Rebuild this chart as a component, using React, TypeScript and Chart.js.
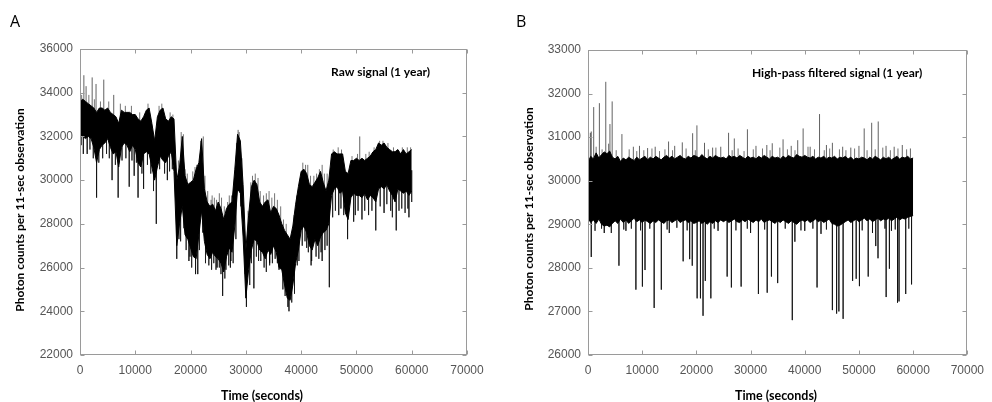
import React, { useEffect, useRef } from "react";
import { Chart, registerables } from "chart.js";
Chart.register(...registerables);

// ---------- Panel A: raw signal ----------
const RAW_STEP = 500; // seconds between envelope samples
const rawHigh = [
  33600, 33700, 33600, 33500, 33400, 33300, 33100, 33300, 33300, 33200,
  33300, 33100, 33000, 32900, 32600, 33200, 33100, 33100, 33100, 33000,
  33000, 32800, 32700, 32900, 33200, 33300, 32600, 31800, 32900, 33200,
  33300, 32800, 32700, 32900, 32800, 30000, 30600, 32000, 30200, 29800,
  29900, 30000, 30500, 30800, 31900, 29600, 29000, 28800, 28900, 28600,
  29000, 28700, 28200, 28700, 28900, 29000, 30500, 32100, 31800, 29800,
  26800, 28400, 29700, 30000, 29800, 29000, 28800, 29000, 29100, 28500,
  28800, 28700, 28400, 28000, 27700, 27500, 27300, 27900, 28900, 29700,
  30400, 30500, 30300, 29800, 29700, 29900, 30100, 30400, 29900, 29500,
  30000, 31200, 31300, 31200, 31200, 31200, 30400, 30300, 30900, 30900,
  31000, 30900, 31000, 30900, 31000, 31100, 31300, 31400, 31700, 31600,
  31700, 31500, 31400, 31300, 31300, 31400, 31200, 31400, 31200, 31300,
  31400,
];
const rawLow = [
  32100, 32000, 31900, 32000, 31900, 31500, 30800, 31400, 31600, 31700,
  31900, 31500, 31200, 31300, 30600, 31500, 31700, 31600, 31300, 31600,
  31400, 30800, 30600, 31200, 31300, 31200, 30600, 30000, 30600, 31100,
  30900, 30800, 31100, 31300, 30400, 27000, 28000, 28800, 27500, 27300,
  26900, 26500, 26400, 27500, 28600, 27200, 26600, 26400, 26700, 26500,
  26400, 26200, 25800, 26500, 26900, 26700, 27900, 29600, 29400, 27400,
  24600, 25900, 26800, 27300, 27200, 26800, 26700, 26400, 26800, 26600,
  27000, 26700, 26000, 25900, 25200, 24600, 24500, 25200, 26200, 26800,
  27700, 27900, 27600, 27000, 26800, 27300, 27000, 27400, 27600, 27700,
  28000, 29300, 29600, 29700, 29400, 29500, 28500, 28200, 29200, 29400,
  29300, 29300, 29200, 29400, 29100, 29300, 29200, 29000, 29600, 29700,
  29600, 29800, 29500, 29300, 29000, 29600, 29500, 29400, 29500, 29300,
  29500,
];
// large excursions
const rawSpikeTimes = [
  700, 1100, 2200, 2900, 4300, 6100, 600, 1300, 3000, 5800, 6900, 8900,
  10500, 11500, 13800, 17500, 19700, 20900, 21300, 24800, 25800, 28600,
  30100, 31450, 36000, 37800, 41800, 45100, 48400, 49500, 50600, 51000,
  53500, 55000, 57200, 59500, 9800, 15800, 27200, 34300, 43800, 46800, 56200,
];
const rawSpikeValues = [
  34800, 34300, 34700, 34400, 34600, 33900, 31200, 31200, 29200, 30000, 29200, 29700,
  29200, 29600, 28000, 26400, 26300, 25700, 25700, 26000, 24700, 32300,
  24200, 25050, 25900, 24000, 26100, 25100, 27300, 28100, 32000, 28200,
  27700, 28500, 27700, 28300, 30200, 30000, 26000, 26200, 26300, 28400, 28600,
];
// small excursions along the band edges
const rawEdgeTimes = [
  300, 1600, 2600, 3700, 5200, 7300, 8200, 9300, 10800, 12300, 14300, 14800,
  16300, 16800, 18300, 18700, 21100, 21800, 22300, 23700, 24300, 25200, 26700,
  27400, 28300, 28800, 31200, 32200, 33200, 34700, 35200, 39700, 40300, 40800,
  42300, 43300, 44700, 45800, 46700, 47300, 49200, 50200, 51700, 52300, 53200,
  54200, 54800, 55700, 56700, 58300, 59200, 59800,
  17800, 19000, 19400, 20400, 20800, 22600, 23100, 23900, 24700, 25600, 26100,
  27000, 27800, 29300, 30400, 30900, 31700, 32600, 33700, 34200, 35700, 36300,
  36800, 37300, 38700, 39200, 41200, 41700, 42800, 43800, 44200, 45300,
  200, 1800, 2400, 3400, 4100, 4800, 5300, 6400, 7600, 8300, 9400, 10200,
  11200, 12200, 12800, 13300, 14400, 15300, 16200, 16700, 18200, 19200, 20200,
  22700, 23300, 24200, 25200, 26200, 26900, 27700, 29800, 30700, 32700, 33700,
  34800, 35700, 36700, 38300, 39300, 40200, 40700, 41300, 42700, 43200, 44300,
  45700, 46200, 47200, 47700, 49800, 50300, 51500, 52200, 52800, 54300, 55500,
  56500, 57700, 58200, 58800, 59300, 60000,
  17900, 18800, 19900, 21600, 22200, 23800, 24600, 25500, 26400, 27300, 28200,
  29100, 31000, 31900, 32300, 33300, 34300, 35300, 37100, 37600, 38800, 39600,
  41000, 41900, 43600, 44700,
];
const rawEdgeValues = [
  33900, 33900, 33700, 33600, 33600, 33500, 33400, 33400, 33100, 33500, 33400, 33500,
  33100, 33000, 32200, 32100, 30700, 31800, 32000, 29100, 29200, 29400, 29000,
  29300, 31700, 32200, 30200, 30100, 29300, 29200, 29400, 30000, 30800, 30700,
  30200, 30500, 30300, 31400, 31500, 31400, 31100, 31200, 31200, 31300, 31500,
  31800, 31800, 31700, 31500, 31500, 31500, 31500,
  30900, 30500, 30300, 30400, 30600, 30200, 29500, 29300, 29100, 29200, 28800,
  29300, 29700, 31000, 28600, 29900, 30300, 29500, 29400, 29500, 29100, 28800,
  28200, 28000, 28400, 29300, 30700, 30200, 30300, 30700, 30300, 30400,
  31600, 31400, 31000, 30800, 31000, 31200, 31000, 30700, 30900, 31000, 30900, 30800,
  30300, 30700, 30300, 29500, 30500, 30300, 30400, 30500, 27200, 26800, 26000,
  26200, 26100, 26200, 26000, 25500, 26100, 26200, 26500, 25200, 26300, 25800,
  26200, 26200, 25000, 24400, 26100, 27000, 27200, 26700, 26500, 26400, 26800,
  28300, 28600, 28700, 28400, 28400, 28600, 28600, 28400, 28600, 28800, 28900,
  28300, 28600, 28700, 28500, 28700, 29000,
  27300, 27800, 26500, 26800, 27600, 25900, 25900, 25700, 25900, 26300, 27300,
  28800, 26200, 26500, 26300, 26000, 26100, 26400, 24700, 24200, 24800, 26300,
  26900, 26300, 26700, 27000,
];

// ---------- Panel B: high-pass filtered signal ----------
const HP_STEP = 500;
const hpHigh = [
  30420, 30560, 30500, 30640, 30520, 30600, 30660, 30620, 30680, 30540,
  30500, 30560, 30440, 30520, 30480, 30540, 30500, 30460, 30540, 30480,
  30520, 30560, 30480, 30540, 30500, 30560, 30520, 30480, 30540, 30580,
  30520, 30560, 30500, 30540, 30580, 30520, 30500, 30560, 30520, 30580,
  30560, 30520, 30600, 30540, 30500, 30560, 30520, 30580, 30540, 30520,
  30540, 30500, 30580, 30540, 30560, 30520, 30580, 30540, 30500, 30560,
  30520, 30540, 30500, 30560, 30520, 30580, 30540, 30500, 30560, 30520,
  30540, 30500, 30560, 30520, 30580, 30540, 30520, 30600, 30560, 30540,
  30580, 30540, 30520, 30560, 30500, 30540, 30520, 30560, 30500, 30540,
  30520, 30560, 30500, 30540, 30520, 30560, 30500, 30540, 30480, 30520,
  30500, 30540, 30520, 30480, 30540, 30500, 30560, 30520, 30480, 30540,
  30500, 30540, 30480, 30520, 30560, 30500, 30540, 30520, 30560, 30500,
  30520,
];
const hpLow = [
  29140, 29040, 29100, 29020, 29120, 29000, 28960, 28980, 28940, 29020,
  29080, 29020, 29120, 29040, 29100, 29020, 29080, 29140, 29060, 29100,
  29040, 29100, 29060, 29020, 29080, 29040, 29100, 29060, 29020, 29080,
  29100, 29040, 29080, 29120, 29040, 29080, 29100, 29040, 29080, 29020,
  29040, 29080, 29020, 29060, 29000, 29060, 29020, 29080, 29040, 29100,
  29060, 29100, 29040, 29080, 29120, 29060, 29040, 29100, 29060, 29120,
  29080, 29040, 29100, 29060, 29120, 29040, 29080, 29100, 29060, 29020,
  29080, 29040, 29100, 29060, 29020, 29080, 29040, 29000, 29060, 29100,
  29060, 29100, 29040, 29080, 29120, 29060, 29100, 29040, 29080, 29120,
  29020, 29000, 28960, 28980, 29020, 29060, 29100, 29040, 29080, 29120,
  29060, 29100, 29140, 29080, 29120, 29060, 29100, 29140, 29080, 29120,
  29100, 29140, 29080, 29120, 29160, 29100, 29140, 29120, 29160, 29180,
  29200,
];
const hpSpikeTimes = [
  430, 600, 1050, 2100, 3280, 4050, 4460, 6260, 8370, 9500, 11000, 12400,
  14870, 16000, 17400, 19310, 20100, 21500, 23000, 24500, 25940, 27000,
  29420, 31000, 33000, 34000, 36000, 37500, 38700, 39700, 41000, 42730,
  44000, 45100, 47000, 48500, 50000, 50970, 52350, 53560, 55000, 56500,
  58000, 59500,
  600, 5710, 8840, 10040, 10520, 12210, 13530, 17560, 18760, 19240, 20140,
  20750, 21230, 21650, 22670, 25680, 26460, 28260, 31450, 33070, 33850,
  35000, 37700, 38180, 42270, 45100, 45880, 46300, 47080, 48830, 49490,
  50090, 51710, 53100, 53520, 55020, 55620, 57120, 57400, 58630, 59710,
  3000, 7000, 15000, 24000, 30000, 40000, 43000, 52500, 56000,
];
const hpSpikeValues = [
  31100, 31130, 31690, 31780, 32270, 31300, 31820, 31070, 30780, 30800, 30750, 30780,
  30900, 30800, 30880, 31090, 31270, 30870, 30760, 30780, 31100, 30970,
  31180, 30800, 30820, 30860, 30950, 30800, 30930, 31200, 30780, 31530,
  30820, 30870, 30780, 30760, 30800, 31200, 31330, 31360, 30800, 30780,
  30820, 30740,
  28250, 28050, 27500, 27570, 27950, 27080, 27500, 28150, 28200, 28050, 27300,
  27300, 26900, 27700, 27300, 27800, 27550, 27570, 27400, 27430, 27800,
  27650, 26800, 28600, 27550, 27030, 26950, 27000, 26830, 27700, 27750,
  27580, 27800, 28500, 28220, 27330, 27980, 27200, 27230, 27400, 27620,
  28800, 28850, 28800, 28850, 28800, 28850, 28780, 28800, 28850,
];
const hpEdgeTimes = [
  1500, 2600, 3800, 5200, 7600, 9000, 10300, 11800, 13200, 14200, 15600, 18100,
  19800, 22200, 23600, 26600, 27700, 28800, 30500, 32200, 33600, 35400, 36800,
  38200, 40600, 41800, 43600, 44600, 46400, 47600, 49200, 51500, 53000, 54400,
  55800, 57200, 58800,
  1300, 2500, 4300, 6600, 8000, 9700, 11400, 14600, 16400, 18300, 23300, 27300,
  29400, 32600, 36400, 39300, 41500, 44000, 50600, 54800, 56700, 59200,
];
const hpEdgeValues = [
  30780, 30720, 30850, 30700, 30720, 30680, 30700, 30740, 30680, 30720, 30700, 30740,
  30700, 30720, 30760, 30700, 30740, 30680, 30720, 30740, 30700, 30760, 30720,
  30700, 30780, 30720, 30700, 30740, 30720, 30700, 30740, 30700, 30720, 30760,
  30700, 30740, 30720,
  28850, 28900, 28800, 28880, 28900, 28860, 28900, 28880, 28920, 28860, 28900, 28860,
  28900, 28880, 28900, 28860, 28900, 28880, 28860, 28900, 28880, 28900,
];

const timeTicks = [0, 10000, 20000, 30000, 40000, 50000, 60000, 70000];

type Panel = {
  high: number[];
  low: number[];
  step: number;
  spikeT: number[];
  spikeV: number[];
  yMin: number;
  yMax: number;
  yStep: number;
  yWidth: number;
  padRight: number;
  padTop: number;
  label: string;
  labelInset: number;
  yTitleX: number;
  yTitleY: number;
  xTitleX: number;
};

function band(arr: number[], step: number) {
  return arr.map((v, i) => ({ x: i * step, y: v }));
}

function spikes(p: Panel) {
  const pts: { x: number; y: number | null }[] = [];
  p.spikeT.forEach((t, i) => {
    const k = Math.min(p.high.length - 1, Math.round(t / p.step));
    const base = (p.high[k] + p.low[k]) / 2;
    pts.push({ x: t, y: base }, { x: t, y: p.spikeV[i] }, { x: t, y: null });
  });
  return pts;
}

const framePlugin = {
  id: "frameDeco",
  afterDatasetsDraw(chart: any, _args: any, opts: any) {
    const { ctx, chartArea: a, scales } = chart;
    const L = Math.round(a.left) + 0.5;
    const R = Math.round(a.right) - 0.5;
    const T = Math.round(a.top) + 0.5;
    const B = Math.round(a.bottom) - 0.5;
    ctx.save();
    ctx.strokeStyle = "#9a9a9a";
    ctx.lineWidth = 1;
    ctx.strokeRect(L, T, R - L, B - T);
    const tl = 4;
    ctx.beginPath();
    scales.x.ticks.forEach((t: any) => {
      const px = Math.round(scales.x.getPixelForValue(t.value)) + 0.5;
      ctx.moveTo(px, B);
      ctx.lineTo(px, B - tl);
      ctx.moveTo(px, T);
      ctx.lineTo(px, T + tl);
    });
    scales.y.ticks.forEach((t: any) => {
      const py = Math.round(scales.y.getPixelForValue(t.value)) + 0.5;
      ctx.moveTo(L, py);
      ctx.lineTo(L + tl, py);
      ctx.moveTo(R, py);
      ctx.lineTo(R - tl, py);
    });
    ctx.stroke();

    ctx.fillStyle = "#000";
    ctx.font = "bold 12px Lato";
    ctx.textAlign = "right";
    ctx.textBaseline = "middle";
    ctx.fillText(opts.label, a.right - opts.labelInset, a.top + 23);

    ctx.textAlign = "center";
    ctx.font = "bold 12.5px Lato";
    ctx.fillText("Time (seconds)", opts.xTitleX, 396);

    ctx.save();
    ctx.translate(opts.yTitleX, opts.yTitleY);
    ctx.rotate(-Math.PI / 2);
    ctx.font = "bold 12px Lato";
    ctx.fillText("Photon counts per 11-sec observation", 0, 0);
    ctx.restore();
    ctx.restore();
  },
};

function makeConfig(p: Panel, edgeT: number[], edgeV: number[]): any {
  const tickFont = { family: "'Liberation Sans', Arial, sans-serif", size: 12 };
  const edgePanel = { ...p, spikeT: edgeT, spikeV: edgeV };
  return {
    type: "line",
    data: {
      datasets: [
        {
          data: band(p.high, p.step),
          borderColor: "#000",
          backgroundColor: "#000",
          borderWidth: 1,
          pointRadius: 0,
          fill: "+1",
          tension: 0,
        },
        {
          data: band(p.low, p.step),
          borderColor: "#000",
          borderWidth: 1,
          pointRadius: 0,
          fill: false,
          tension: 0,
        },
        {
          data: spikes(p),
          borderColor: "rgba(0,0,0,0.62)",
          borderWidth: 1,
          pointRadius: 0,
          fill: false,
          spanGaps: false,
        },
        {
          data: spikes(edgePanel),
          borderColor: "rgba(0,0,0,0.55)",
          borderWidth: 1,
          pointRadius: 0,
          fill: false,
          spanGaps: false,
        },
      ],
    },
    options: {
      animation: false,
      responsive: false,
      devicePixelRatio: 1,
      layout: { padding: { left: 0, right: p.padRight, top: p.padTop, bottom: 0 } },
      plugins: {
        legend: { display: false },
        tooltip: { enabled: false },
        frameDeco: {
          label: p.label,
          labelInset: p.labelInset,
          yTitleX: p.yTitleX,
          yTitleY: p.yTitleY,
          xTitleX: p.xTitleX,
        },
      },
      scales: {
        x: {
          type: "linear",
          min: 0,
          max: 70000,
          afterBuildTicks: (s: any) => {
            s.ticks = timeTicks.map((v) => ({ value: v }));
          },
          grid: { display: false, drawTicks: false },
          border: { display: false },
          ticks: {
            color: "#555",
            font: tickFont,
            padding: 8,
            maxRotation: 0,
            autoSkip: false,
            callback: (v: any) => String(v),
          },
          afterFit: (s: any) => {
            s.height = 47;
          },
        },
        y: {
          type: "linear",
          min: p.yMin,
          max: p.yMax,
          ticks: {
            stepSize: p.yStep,
            color: "#555",
            font: tickFont,
            padding: 7,
            callback: (v: any) => String(v),
          },
          grid: { display: false, drawTicks: false },
          border: { display: false },
          afterFit: (s: any) => {
            s.width = p.yWidth;
          },
        },
      },
    },
    plugins: [framePlugin],
  };
}

const panelA: Panel = {
  high: rawHigh,
  low: rawLow,
  step: RAW_STEP,
  spikeT: rawSpikeTimes,
  spikeV: rawSpikeValues,
  yMin: 22000,
  yMax: 36000,
  yStep: 2000,
  yWidth: 80,
  padRight: 29,
  padTop: 49,
  label: "Raw signal (1 year)",
  labelInset: 37,
  yTitleX: 20,
  yTitleY: 210,
  xTitleX: 262,
};

const panelB: Panel = {
  high: hpHigh,
  low: hpLow,
  step: HP_STEP,
  spikeT: hpSpikeTimes,
  spikeV: hpSpikeValues,
  yMin: 26000,
  yMax: 33000,
  yStep: 1000,
  yWidth: 92,
  padRight: 17,
  padTop: 50,
  label: "High-pass filtered signal (1 year)",
  labelInset: 45,
  yTitleX: 33,
  yTitleY: 209,
  xTitleX: 280,
};

export default function App() {
  const refA = useRef<HTMLCanvasElement>(null);
  const refB = useRef<HTMLCanvasElement>(null);
  useEffect(() => {
    const a = new Chart(
      refA.current as HTMLCanvasElement,
      makeConfig(panelA, rawEdgeTimes, rawEdgeValues)
    );
    const b = new Chart(
      refB.current as HTMLCanvasElement,
      makeConfig(panelB, hpEdgeTimes, hpEdgeValues)
    );
    return () => {
      a.destroy();
      b.destroy();
    };
  }, []);
  const letter: React.CSSProperties = {
    position: "absolute",
    top: 13,
    font: "16px 'Open Sans', sans-serif",
    lineHeight: "16px",
    color: "#000",
  };
  return (
    <div
      style={{
        position: "fixed",
        left: 0,
        top: 0,
        width: 992,
        height: 402,
        background: "#fff",
        overflow: "hidden",
      }}
    >
      <canvas
        ref={refA}
        width={496}
        height={402}
        style={{ position: "absolute", left: 0, top: 0, width: 496, height: 402 }}
      />
      <canvas
        ref={refB}
        width={496}
        height={402}
        style={{ position: "absolute", left: 496, top: 0, width: 496, height: 402 }}
      />
      <div style={{ ...letter, left: 10 }}>A</div>
      <div style={{ ...letter, left: 516 }}>B</div>
    </div>
  );
}
